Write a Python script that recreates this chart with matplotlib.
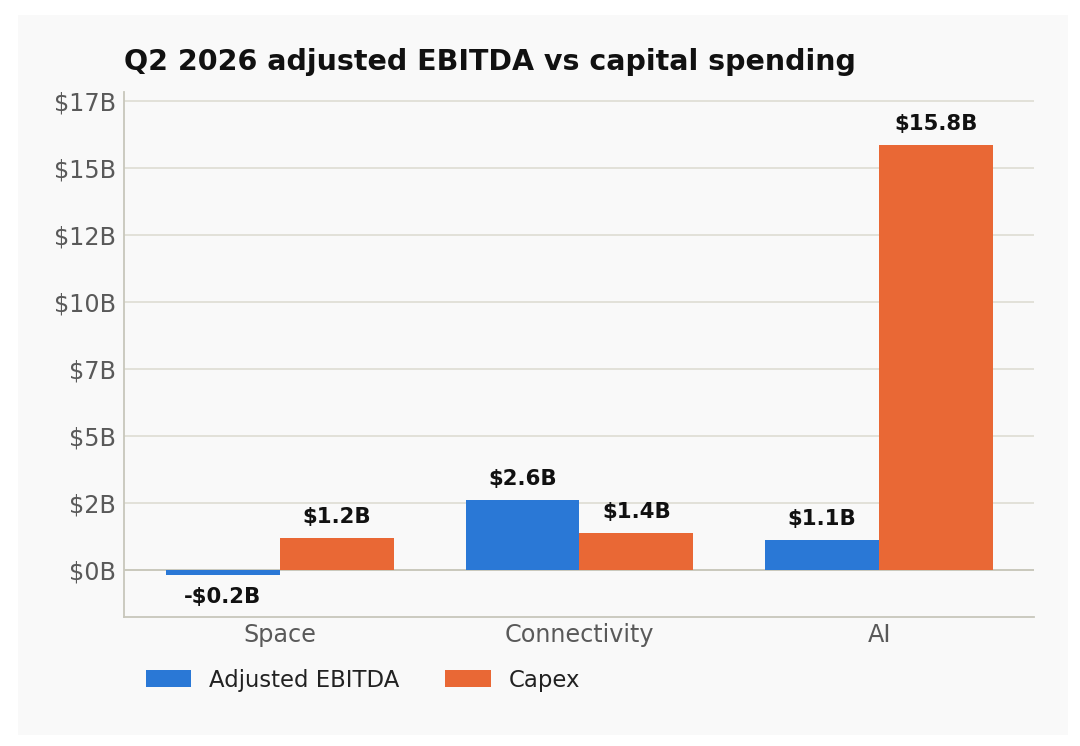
import matplotlib
matplotlib.use("Agg")
import matplotlib.pyplot as plt
from matplotlib.patches import Rectangle
import numpy as np

categories = ["Space", "Connectivity", "AI"]
ebitda = [-0.2, 2.6, 1.12]
capex = [1.2, 1.4, 15.86]
series_names = ["Adjusted EBITDA", "Capex"]
ebitda_labels = ["-$0.2B", "$2.6B", "$1.1B"]
capex_labels = ["$1.2B", "$1.4B", "$15.8B"]
yticks = [0, 2.5, 5, 7.5, 10, 12.5, 15, 17.5]
ytick_labels = ["$0B", "$2B", "$5B", "$7B", "$10B", "$12B", "$15B", "$17B"]
title = "Q2 2026 adjusted EBITDA vs capital spending"

blue = "#2a78d6"
orange = "#e96835"
panel = "#f9f9f9"
grid_c = "#e0dfd6"
spine_c = "#c8c7bb"
tick_c = "#595959"

fig = plt.figure(figsize=(10.8, 7.46), dpi=100)
fig.patch.set_facecolor("white")
bg = Rectangle((18/1080, 1 - 735/746), (1068-18)/1080, (735-15)/746,
               transform=fig.transFigure, facecolor=panel, edgecolor="none", zorder=-10)
fig.patches.append(bg)

ax = fig.add_axes([124/1080, 1 - 617/746, (1034-124)/1080, (617-92)/746])
ax.set_facecolor(panel)
ax.set_zorder(1)

x = np.arange(len(categories))
w = 0.38
b1 = ax.bar(x - w/2, ebitda, w, color=blue, label=series_names[0], zorder=3)
b2 = ax.bar(x + w/2, capex, w, color=orange, label=series_names[1], zorder=3)

for rect, lab, v in zip(b1, ebitda_labels, ebitda):
    cx = rect.get_x() + rect.get_width()/2
    if v < 0:
        ax.annotate(lab, (cx, v), xytext=(0, -8), textcoords="offset points",
                    ha="center", va="top", fontsize=15.3, fontweight="bold", color="#111111")
    else:
        ax.annotate(lab, (cx, v), xytext=(0, 8), textcoords="offset points",
                    ha="center", va="bottom", fontsize=15.3, fontweight="bold", color="#111111")
for rect, lab, v in zip(b2, capex_labels, capex):
    cx = rect.get_x() + rect.get_width()/2
    ax.annotate(lab, (cx, v), xytext=(0, 8), textcoords="offset points",
                ha="center", va="bottom", fontsize=15.3, fontweight="bold", color="#111111")

ax.set_xlim(-0.52, 2.517)
ax.set_ylim(-1.75, 17.85)
ax.set_yticks(yticks)
ax.set_yticklabels(ytick_labels)
ax.set_xticks(x)
ax.set_xticklabels(categories)
ax.tick_params(axis="both", length=0, labelsize=17.2, labelcolor=tick_c)
ax.tick_params(axis="y", pad=6)
ax.tick_params(axis="x", pad=4)
ax.grid(axis="y", color=grid_c, linewidth=1.3, zorder=0)
ax.set_axisbelow(True)
ax.axhline(0, color=spine_c, linewidth=1.3, zorder=2)
for s in ["top", "right"]:
    ax.spines[s].set_visible(False)
for s in ["left", "bottom"]:
    ax.spines[s].set_color(spine_c)
    ax.spines[s].set_linewidth(1.3)

fig.text(124/1080, 1 - 62/746, title, fontsize=20.5, fontweight="bold", color="#111111",
         ha="left", va="center")

leg = fig.legend(loc="center left", bbox_to_anchor=(125/1080, 1 - 680/746), ncol=2,
                 frameon=False, fontsize=16.4, handlelength=2.0, handleheight=0.75,
                 handletextpad=0.8, columnspacing=2.0, labelcolor="#222222")

fig.savefig("out.png", dpi=100, facecolor=fig.get_facecolor())
